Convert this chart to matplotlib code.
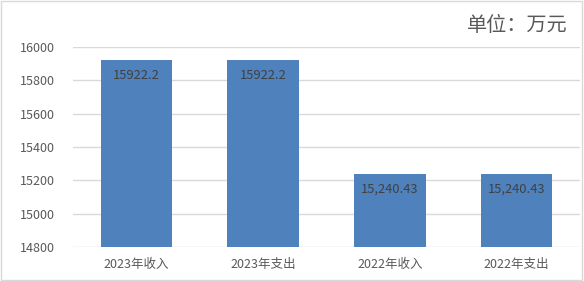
import matplotlib.pyplot as plt
from matplotlib.patches import Rectangle

plt.rcParams['font.family'] = ['Noto Sans CJK SC', 'DejaVu Sans']

# data
categories = ['2023年收入', '2023年支出', '2022年收入', '2022年支出']
values = [15922.2, 15922.2, 15240.43, 15240.43]
value_labels = ['15922.2', '15922.2', '15,240.43', '15,240.43']
yticks = [14800, 15000, 15200, 15400, 15600, 15800, 16000]

fig = plt.figure(figsize=(5.84, 2.81), dpi=100)
ax = fig.add_axes([0.125, 0.121, 0.868, 0.712])

x = range(len(categories))
bars = ax.bar(x, values, width=0.565, color='#4f81bd', zorder=2)

for b, txt in zip(bars, value_labels):
    ax.annotate(txt, (b.get_x() + b.get_width() / 2, b.get_height()),
                textcoords='offset points', xytext=(0, -11),
                ha='center', va='center', fontsize=9.3, color='#404040')

ax.set_xlim(-0.5, 3.5)
ax.set_ylim(14800, 16000)
ax.set_yticks(yticks)
ax.set_xticks(list(x))
ax.set_xticklabels(categories)
ax.tick_params(axis='both', length=0, labelsize=9, colors='#595959')
ax.tick_params(axis='y', pad=13)
ax.tick_params(axis='x', pad=8)
ax.yaxis.grid(True, color='#d9d9d9', linewidth=1, zorder=0)
for s in ax.spines.values():
    s.set_visible(False)

fig.text(0.971, 0.91, '单位：万元', ha='right', va='center', fontsize=14.5, color='#595959')

# outer border
fig.patches.append(Rectangle((0.001, 0.002), 0.995, 0.995, transform=fig.transFigure,
                             fill=False, edgecolor='#d9d9d9', linewidth=1))

fig.savefig('out.png', dpi=100)
